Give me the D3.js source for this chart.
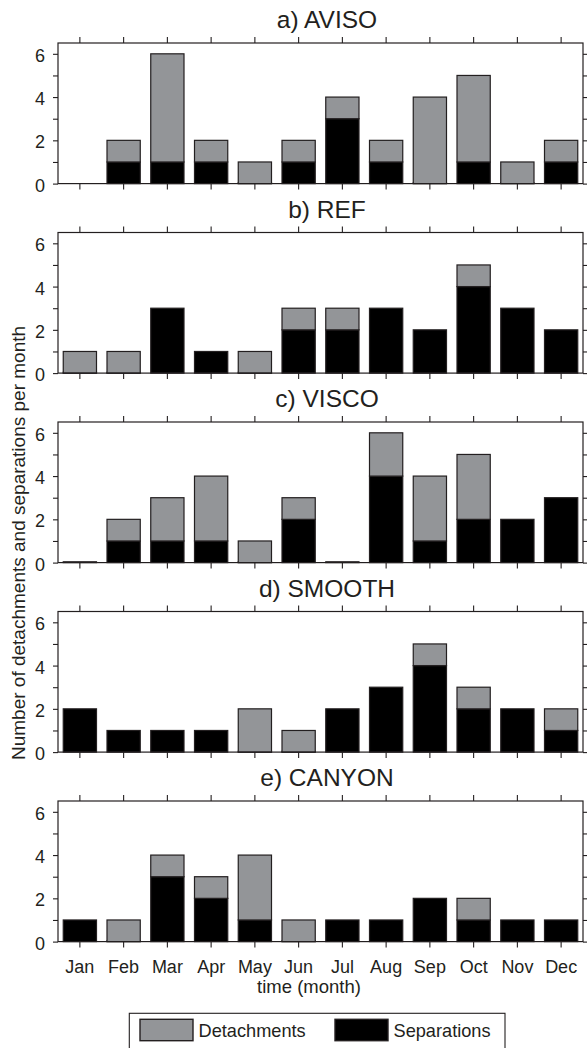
<!DOCTYPE html>
<html>
<head>
<meta charset="utf-8">
<script src="https://cdn.jsdelivr.net/npm/d3@7/dist/d3.min.js"></script>
<style>
  html, body { margin: 0; padding: 0; background: #fff; }
  svg { display: block; font-family: "Liberation Sans", Arial, Helvetica, sans-serif; }
</style>
</head>
<body>
<svg id="chart" width="587" height="1048"></svg>
<script>
// ---- data ----
const months = ["Jan","Feb","Mar","Apr","May","Jun","Jul","Aug","Sep","Oct","Nov","Dec"];
const panelTitles = ["a) AVISO","b) REF","c) VISCO","d) SMOOTH","e) CANYON"];
const yTicks = [0,1,2,3,4,5,6];
const yLabels = [0,2,4,6];

const avisoSep  = [null,1,1,1,0,1,3,1,0,1,0,1];
const avisoDet  = [null,1,5,1,1,1,1,1,4,4,1,1];
const refSep    = [0,0,3,1,0,2,2,3,2,4,3,2];
const refDet    = [1,1,0,0,1,1,1,0,0,1,0,0];
const viscoSep  = [0,1,1,1,0,2,0,4,1,2,2,3];
const viscoDet  = [0,1,2,3,1,1,0,2,3,3,0,0];
const smoothSep = [2,1,1,1,0,0,2,3,4,2,2,1];
const smoothDet = [0,0,0,0,2,1,0,0,1,1,0,1];
const canyonSep = [1,0,3,2,1,0,1,1,2,1,1,1];
const canyonDet = [0,1,1,1,3,1,0,0,0,1,0,0];

const sepSeries = [avisoSep, refSep, viscoSep, smoothSep, canyonSep];
const detSeries = [avisoDet, refDet, viscoDet, smoothDet, canyonDet];

const legendLabels = ["Detachments","Separations"];

// ---- styles ----
const INK = "#231f20";
const GRAY = "#939598";
const BLACK = "#000000";

const svg = d3.select("#chart");
const left = 58, right = 583;
const firstTop = 43, panelStep = 189.5, panelH = 140.6;

const x = d3.scaleBand().domain(months).range([left, right])
  .paddingInner(0.24).paddingOuter(0.12);

panelTitles.forEach((title, i) => {
  const top = firstTop + i * panelStep;
  const bottom = top + panelH;
  const y = d3.scaleLinear().domain([0, 6.5]).range([bottom, top]);
  const g = svg.append("g");

  // bars
  const sep = sepSeries[i], det = detSeries[i];
  const rows = months.map((m, k) => ({m, s: sep[k], d: det[k]})).filter(r => r.s !== null);
  const minH = 0.8; // zero-height bars still show as a thin line
  g.selectAll("rect.sep").data(rows).join("rect")
    .attr("class","sep")
    .attr("x", r => x(r.m)).attr("width", x.bandwidth())
    .attr("y", r => Math.min(y(r.s), y(0) - minH))
    .attr("height", r => Math.max(y(0) - y(r.s), minH))
    .attr("fill", BLACK).attr("stroke", INK).attr("stroke-width", 1.2);
  g.selectAll("rect.det").data(rows.filter(r => r.d > 0)).join("rect")
    .attr("class","det")
    .attr("x", r => x(r.m)).attr("width", x.bandwidth())
    .attr("y", r => y(r.s + r.d)).attr("height", r => y(r.s) - y(r.s + r.d))
    .attr("fill", GRAY).attr("stroke", INK).attr("stroke-width", 1.2);

  // axes
  const isLast = i === panelTitles.length - 1;
  const ax = [
    g.append("g").attr("transform", `translate(0,${bottom})`)
      .call(d3.axisBottom(x).tickSize(6).tickSizeOuter(0).tickPadding(12.5)
        .tickFormat(d => isLast ? d : "")),
    g.append("g").attr("transform", `translate(0,${top})`)
      .call(d3.axisTop(x).tickSize(6).tickSizeOuter(0).tickFormat("")),
    g.append("g").attr("transform", `translate(${left},0)`)
      .call(d3.axisLeft(y).tickValues(yTicks).tickSize(5).tickSizeOuter(0).tickPadding(8)
        .tickFormat(d => yLabels.includes(d) ? d : "")),
    g.append("g").attr("transform", `translate(${right},0)`)
      .call(d3.axisRight(y).tickValues(yTicks).tickSize(5).tickSizeOuter(0).tickFormat(""))
  ];
  ax.forEach(a => {
    a.select(".domain").remove();
    a.selectAll("line").attr("stroke", INK).attr("stroke-width", 1.1);
    a.selectAll("text").attr("fill", INK).attr("font-size", 18)
      .attr("font-family", '"Liberation Sans", Arial, sans-serif');
  });
  ax[2].selectAll("text").attr("dy", "0.42em");

  // frame
  g.append("rect").attr("x", left).attr("y", top)
    .attr("width", right - left).attr("height", panelH)
    .attr("fill", "none").attr("stroke", INK).attr("stroke-width", 1.2);

  // title
  g.append("text").attr("x", 327).attr("y", top - 15)
    .attr("text-anchor", "middle").attr("font-size", 24.5).attr("fill", INK)
    .text(title);
});

// y label
svg.append("text")
  .attr("transform", "translate(25,543) rotate(-90)")
  .attr("text-anchor", "middle").attr("font-size", 19).attr("fill", INK)
  .text("Number of detachments and separations per month");

// x label
svg.append("text").attr("x", 309).attr("y", 993)
  .attr("text-anchor", "middle").attr("font-size", 18.5).attr("fill", INK)
  .text("time (month)");

// legend
const lg = svg.append("g");
lg.append("rect").attr("x", 129.3).attr("y", 1013.3).attr("width", 375.7).attr("height", 45)
  .attr("fill", "#fff").attr("stroke", INK).attr("stroke-width", 1.1);
const legendFill = [GRAY, BLACK];
const legendX = [140, 335];
legendLabels.forEach((lab, k) => {
  lg.append("rect").attr("x", legendX[k]).attr("y", 1019.3).attr("width", 53).attr("height", 21.4)
    .attr("fill", legendFill[k]).attr("stroke", INK).attr("stroke-width", 1.4);
  lg.append("text").attr("x", legendX[k] + 58.5).attr("y", 1037)
    .attr("font-size", 18.2).attr("fill", INK).text(lab);
});
</script>
</body>
</html>
